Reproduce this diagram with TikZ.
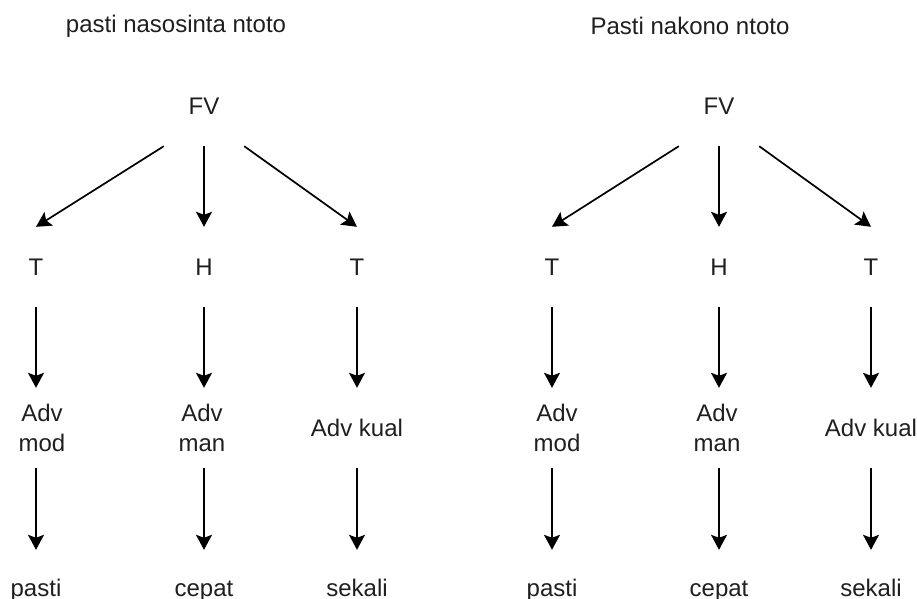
\documentclass[tikz,border=0pt]{standalone}
\usepackage{fontspec}
\setmainfont{Liberation Sans}
\usepackage{tikz}
\usetikzlibrary{positioning, arrows.meta}

\tikzset{
    word/.style={minimum width=80pt, minimum height=80pt, inner sep=0pt, align=center,
        text=black!88, font=\fontsize{24}{30}\selectfont},
    leaf/.style={word, text height=17pt, text depth=5pt},
    title/.style={text=black!88, font=\fontsize{24}{30}\selectfont},
    arr/.style={line width=1.7pt, -{Stealth[length=15pt, width=16pt, inset=3pt]}}
}

\begin{document}
\begin{tikzpicture}[x=1pt, y=-1pt]
    \useasboundingbox (0,0) rectangle (917,598);
    % left tree
    \node[title](tl) at (176,26){pasti nasosinta ntoto};
    \node[word](fvl) at (204,106){FV};
    \node[word](tl1) at (36,267){T};
    \node[word](hl) at (204,267){H};
    \node[word](tl2) at (357,267){T};
    \node[word](modl) at (42,428){Adv\\mod};
    \node[word](manl) at (202,428){Adv\\man};
    \node[word](kuall) at (357,428){Adv kual};
    \node[leaf](pastil) at (36,590){pasti};
    \node[leaf](cepatl) at (204,590){cepat};
    \node[leaf](sekalil) at (357,590){sekali};
    \draw[arr](fvl.south west)--(tl1.north);
    \draw[arr](fvl.south)--(hl.north);
    \draw[arr](fvl.south east)--(tl2.north);
    \draw[arr](tl1.south)--(tl1.south |- modl.north);
    \draw[arr](hl.south)--(hl.south |- manl.north);
    \draw[arr](tl2.south)--(kuall.north);
    \draw[arr](tl1.south |- modl.south)--(pastil.north);
    \draw[arr](hl.south |- manl.south)--(cepatl.north);
    \draw[arr](kuall.south)--(sekalil.north);
    % right tree
    \node[title](tr) at (690,26){Pasti nakono ntoto};
    \node[word](fvr) at (719,106){FV};
    \node[word](tr1) at (552,267){T};
    \node[word](hr) at (719,267){H};
    \node[word](tr2) at (871,267){T};
    \node[word](modr) at (557,428){Adv\\mod};
    \node[word](manr) at (717,428){Adv\\man};
    \node[word](kualr) at (871,428){Adv kual};
    \node[leaf](pastir) at (552,590){pasti};
    \node[leaf](cepatr) at (719,590){cepat};
    \node[leaf](sekalir) at (871,590){sekali};
    \draw[arr](fvr.south west)--(tr1.north);
    \draw[arr](fvr.south)--(hr.north);
    \draw[arr](fvr.south east)--(tr2.north);
    \draw[arr](tr1.south)--(tr1.south |- modr.north);
    \draw[arr](hr.south)--(hr.south |- manr.north);
    \draw[arr](tr2.south)--(kualr.north);
    \draw[arr](tr1.south |- modr.south)--(pastir.north);
    \draw[arr](hr.south |- manr.south)--(cepatr.north);
    \draw[arr](kualr.south)--(sekalir.north);
\end{tikzpicture}
\end{document}
